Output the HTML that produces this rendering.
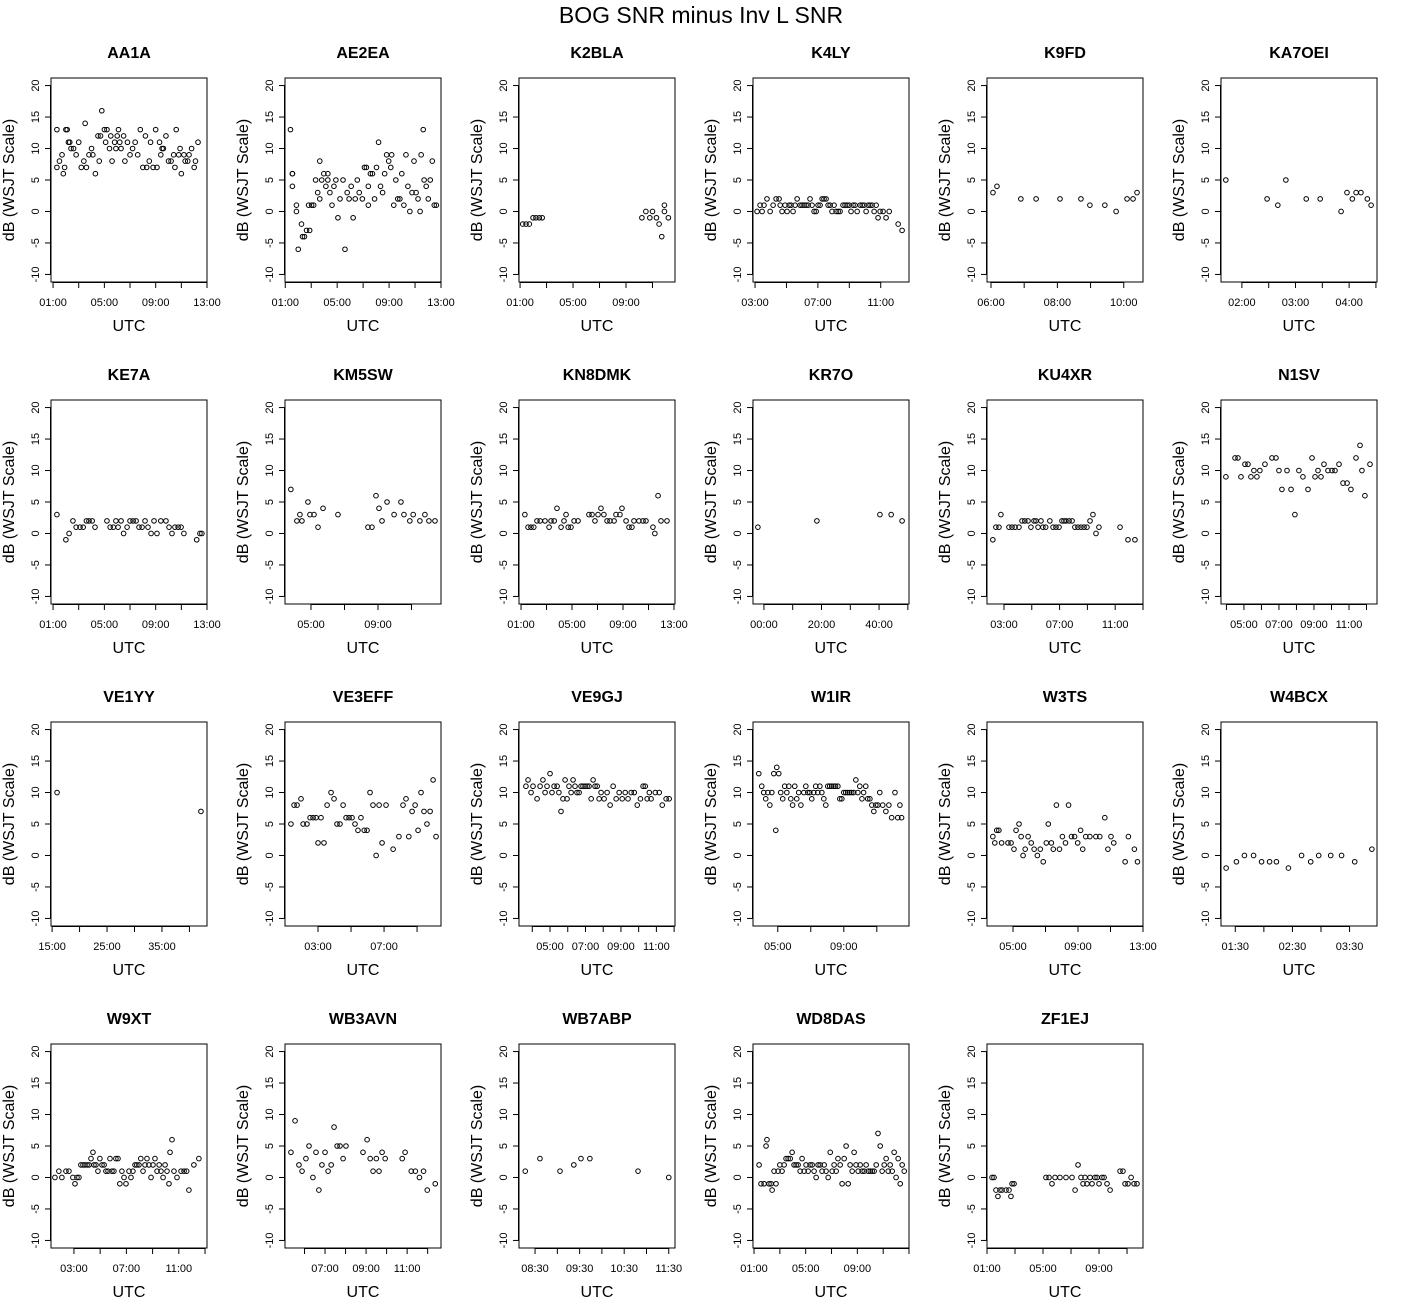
<!DOCTYPE html>
<html><head><meta charset="utf-8">
<style>
html,body{margin:0;padding:0;background:#fff;}
svg{display:block;font-family:"Liberation Sans",Arial,sans-serif;}
</style></head>
<body>
<svg id="chart" width="1403" height="1313" viewBox="0 0 1403 1313" xmlns="http://www.w3.org/2000/svg">
<text x="701" y="23" text-anchor="middle" font-size="23">BOG SNR minus Inv L SNR</text>
</svg>
<script>
// ---- data (hours, dB) ----
const tAA1A=[1.3,1.3,1.5,1.7,1.8,1.9,2.0,2.1,2.2,2.3,2.4,2.6,2.8,3.0,3.2,3.4,3.5,3.6,3.8,4.0,4.1,4.3,4.5,4.6,4.7,4.8,5.0,5.1,5.2,5.4,5.5,5.6,5.8,5.9,6.0,6.1,6.2,6.3,6.5,6.6,6.8,7.0,7.2,7.4,7.6,7.8,8.0,8.2,8.3,8.5,8.6,8.8,9.0,9.1,9.3,9.4,9.5,9.6,9.8,10.0,10.2,10.4,10.5,10.6,10.8,10.9,11.0,11.2,11.3,11.5,11.6,11.8,12.0,12.1,12.3];
const vAA1A=[13,7,8,9,6,7,13,13,11,11,10,10,9,11,7,8,14,7,9,10,9,6,12,8,12,16,13,11,13,10,12,8,11,10,12,13,11,10,12,8,11,9,10,11,9,13,7,12,7,8,11,7,13,7,11,9,10,10,12,8,8,9,7,13,9,10,6,9,8,8,9,10,7,8,11];
const tAE2EA=[1.4,1.55,1.55,1.55,1.86,1.86,2.0,2.25,2.33,2.48,2.64,2.8,2.88,3.03,3.19,3.34,3.5,3.66,3.66,3.81,3.97,4.13,4.28,4.28,4.44,4.6,4.75,4.9,5.06,5.22,5.45,5.6,5.77,5.92,6.08,6.23,6.39,6.55,6.7,6.94,7.1,7.25,7.4,7.4,7.56,7.72,7.88,8.03,8.19,8.34,8.5,8.66,8.81,8.97,9.13,9.2,9.36,9.52,9.67,9.83,9.98,10.14,10.3,10.45,10.6,10.77,10.92,11.08,11.23,11.39,11.47,11.63,11.7,11.86,12.02,12.17,12.33,12.48,12.64];
const vAE2EA=[13,6,6,4,0,1,-6,-2,-4,-4,-3,1,-3,1,1,5,3,8,2,5,6,4,5,6,3,1,4,5,-1,2,5,-6,3,2,4,-1,2,5,3,2,7,7,4,1,6,6,2,7,11,4,3,6,9,8,7,9,1,5,2,2,6,1,9,4,0,3,8,3,2,0,9,13,5,4,2,5,8,1,1];
const tK2BLA=[1.2,1.45,1.7,1.98,2.2,2.45,2.67,10.2,10.5,10.8,11.0,11.3,11.5,11.7,11.9,11.9,12.2];
const vK2BLA=[-2,-2,-2,-1,-1,-1,-1,-1,0,-1,0,-1,-2,-4,1,0,-1];
const tK4LY=[3.13,3.32,3.45,3.57,3.76,3.96,4.15,4.34,4.53,4.6,4.72,4.91,5.04,5.17,5.29,5.42,5.55,5.68,5.87,5.99,6.12,6.25,6.38,6.5,6.63,6.76,6.89,7.01,7.14,7.27,7.39,7.52,7.65,7.78,7.9,8.03,8.16,8.29,8.41,8.6,8.73,8.86,8.99,9.11,9.24,9.37,9.5,9.69,9.82,9.94,10.07,10.2,10.32,10.45,10.58,10.71,10.83,10.96,11.15,11.34,11.54,12.11,12.36];
const vK4LY=[0,1,0,1,2,0,1,2,2,1,0,1,0,1,1,0,1,2,1,1,1,1,1,2,1,0,0,1,1,2,2,2,1,1,0,1,0,0,0,1,1,1,1,0,1,1,0,1,1,1,0,1,1,1,0,1,-1,0,0,-1,0,-2,-3];
const tK9FD=[6.06,6.18,6.9,7.36,8.08,8.71,8.98,9.43,9.77,10.1,10.28,10.4];
const vK9FD=[3,4,2,2,2,2,1,1,0,2,2,3];
const tKA7OEI=[1.7,2.47,2.67,2.82,3.2,3.46,3.85,3.96,4.06,4.13,4.22,4.34,4.41];
const vKA7OEI=[5,2,1,5,2,2,0,3,2,3,3,2,1];
const tKE7A=[1.3,2.0,2.25,2.55,2.8,3.1,3.35,3.6,3.8,4.05,4.27,5.2,5.45,5.7,5.9,6.07,6.3,6.5,6.77,7.0,7.24,7.47,7.7,7.94,8.17,8.4,8.64,8.87,9.1,9.4,9.8,10.04,10.27,10.5,10.75,10.98,11.2,12.2,12.45,12.6];
const vKE7A=[3,-1,0,2,1,1,1,2,2,2,1,2,1,1,2,1,2,0,1,2,2,2,1,1,2,1,0,2,0,2,2,1,0,1,1,1,0,-1,0,0];
const tKM5SW=[3.8,4.16,4.34,4.46,4.82,4.94,5.18,5.42,5.72,6.61,8.4,8.64,8.88,9.06,9.24,9.54,9.96,10.37,10.55,10.9,11.1,11.5,11.8,12.04,12.4];
const vKM5SW=[7,2,3,2,5,3,3,1,4,3,1,1,6,4,2,5,3,5,3,2,3,2,3,2,2];
const tKN8DMK=[1.3,1.55,1.78,2.0,2.25,2.5,2.88,3.2,3.35,3.6,3.82,4.14,4.37,4.53,4.7,4.92,5.16,5.47,6.33,6.57,6.8,7.04,7.27,7.5,7.75,7.98,8.3,8.45,8.76,8.92,9.24,9.47,9.7,9.86,10.25,10.57,10.8,11.35,11.5,11.75,11.98,12.45];
const vKN8DMK=[3,1,1,1,2,2,2,1,2,2,4,1,2,3,1,1,2,2,3,3,2,3,4,3,2,2,2,3,3,4,2,1,1,2,2,2,2,1,0,6,2,2];
const tKR7O=[-2.1,18.4,40.3,44.2,48];
const vKR7O=[1,2,3,3,2];
const tKU4XR=[2.2,2.42,2.64,2.78,3.36,3.58,3.8,4.08,4.3,4.5,4.73,4.94,5.16,5.3,5.45,5.66,5.8,6.0,6.3,6.53,6.74,6.96,7.17,7.32,7.46,7.68,7.9,8.1,8.32,8.54,8.76,8.97,9.19,9.4,9.62,9.83,11.35,11.92,12.42];
const vKU4XR=[-1,1,1,3,1,1,1,1,2,2,2,1,2,2,1,2,1,1,2,1,1,1,2,2,2,2,2,1,1,1,1,1,2,3,0,1,1,-1,-1];
const tN1SV=[3.97,4.49,4.66,4.83,5.06,5.23,5.4,5.57,5.74,5.91,6.2,6.6,6.83,7.0,7.17,7.46,7.69,7.91,8.14,8.37,8.66,8.89,9.06,9.23,9.4,9.57,9.8,10.03,10.2,10.43,10.66,10.89,11.11,11.4,11.63,11.74,11.91,12.2];
const vN1SV=[9,12,12,9,11,11,9,10,9,10,11,12,12,10,7,10,7,3,10,9,7,12,9,10,9,11,10,10,10,11,8,8,7,12,14,10,6,11];
const tVE1YY=[15.9,42.1];
const vVE1YY=[10,7];
const tVE3EFF=[1.36,1.55,1.73,1.97,2.1,2.33,2.52,2.7,2.88,3.0,3.18,3.36,3.55,3.79,3.97,4.15,4.33,4.52,4.7,4.88,5.06,5.24,5.42,5.6,5.8,5.97,6.15,6.33,6.52,6.7,6.88,7.12,7.55,7.9,8.15,8.33,8.5,8.7,8.88,9.06,9.24,9.42,9.6,9.79,9.97,10.15];
const vVE3EFF=[5,8,8,9,5,5,6,6,6,2,6,2,8,10,9,5,5,8,6,6,6,5,4,6,4,4,10,8,0,8,2,8,1,3,8,9,3,7,8,4,10,7,5,7,12,3];
const tVE9GJ=[3.64,3.76,3.93,4.04,4.27,4.44,4.6,4.72,4.83,5.0,5.11,5.23,5.4,5.5,5.62,5.73,5.85,5.96,6.07,6.19,6.3,6.41,6.52,6.64,6.75,6.86,6.98,7.09,7.2,7.32,7.43,7.54,7.66,7.77,7.88,8.05,8.22,8.39,8.56,8.73,8.9,9.07,9.24,9.4,9.58,9.75,9.92,10.1,10.25,10.37,10.48,10.6,10.7,10.94,11.16,11.33,11.55,11.72];
const vVE9GJ=[11,12,10,11,9,11,12,10,11,13,10,11,11,10,7,9,12,9,11,10,12,11,10,10,11,11,11,11,11,9,12,11,11,9,10,9,10,8,11,9,10,9,10,9,10,10,8,9,11,11,9,10,9,10,10,8,9,9];
const tW1IR=[3.85,4.03,4.15,4.27,4.4,4.52,4.64,4.76,4.88,4.94,5.06,5.18,5.3,5.42,5.55,5.67,5.79,5.9,6.03,6.15,6.27,6.4,6.58,6.7,6.82,6.94,7.06,7.18,7.3,7.42,7.55,7.67,7.79,7.91,8.03,8.15,8.27,8.4,8.5,8.64,8.76,8.88,9.0,9.12,9.24,9.36,9.48,9.6,9.73,9.85,9.97,10.1,10.2,10.33,10.45,10.58,10.7,10.82,10.94,11.06,11.18,11.36,11.55,11.73,11.9,12.1,12.27,12.4,12.5];
const vW1IR=[13,11,10,9,10,8,10,13,4,14,13,10,9,11,10,11,9,8,11,9,10,8,10,11,10,10,9,10,11,10,11,10,9,8,11,11,11,11,11,11,9,9,10,10,10,10,10,10,12,10,11,9,10,11,9,9,8,7,8,8,10,8,7,8,6,10,6,8,6];
const tW3TS=[3.76,3.88,4.0,4.13,4.3,4.69,4.88,5.06,5.19,5.37,5.5,5.62,5.75,5.93,6.12,6.3,6.5,6.68,6.86,7.05,7.17,7.36,7.48,7.67,7.86,8.04,8.23,8.42,8.6,8.79,8.98,9.16,9.29,9.48,9.73,10.1,10.34,10.65,10.84,11.03,11.2,11.9,12.1,12.47,12.66];
const vW3TS=[3,2,4,4,2,2,2,1,4,5,3,0,1,3,2,1,0,1,-1,2,5,2,1,8,1,3,2,8,3,3,2,4,1,3,3,3,3,6,1,3,2,-1,3,1,-1];
const tW4BCX=[1.34,1.52,1.66,1.82,1.96,2.1,2.22,2.43,2.66,2.82,2.96,3.17,3.36,3.59,3.89];
const vW4BCX=[-2,-1,0,0,-1,-1,-1,-2,0,-1,0,0,0,-1,1];
const tW9XT=[1.55,1.85,2.08,2.39,2.62,2.92,3.08,3.23,3.38,3.53,3.69,3.84,4.0,4.15,4.3,4.45,4.53,4.68,4.83,4.98,5.14,5.3,5.44,5.6,5.75,5.9,6.05,6.2,6.36,6.5,6.66,6.82,6.97,7.2,7.35,7.5,7.66,7.8,7.96,8.1,8.27,8.42,8.57,8.72,8.88,9.03,9.18,9.34,9.5,9.64,9.8,9.95,10.1,10.25,10.33,10.48,10.63,10.86,11.17,11.4,11.6,11.77,12.15,12.53];
const vW9XT=[0,1,0,1,1,0,-1,0,0,2,2,2,2,2,3,4,2,2,1,3,2,2,1,1,3,1,1,3,3,-1,1,0,-1,1,0,1,2,2,2,3,1,2,3,2,0,2,3,1,2,1,0,2,1,-1,4,6,1,0,1,1,1,-2,2,3];
const tWB3AVN=[5.34,5.54,5.73,5.88,6.07,6.22,6.41,6.56,6.7,6.85,7.0,7.15,7.3,7.44,7.59,7.73,7.88,8.02,8.85,9.05,9.2,9.34,9.5,9.63,9.78,9.93,10.76,10.9,11.2,11.4,11.6,11.8,11.98,12.37];
const vWB3AVN=[4,9,2,1,3,5,0,4,-2,2,4,1,2,8,5,5,3,5,4,6,3,1,3,1,4,3,3,4,1,1,0,1,-2,-1];
const tWB7ABP=[8.28,8.61,9.06,9.37,9.53,9.73,10.81,11.5];
const vWB7ABP=[1,3,1,2,3,3,1,0];
const tWD8DAS=[1.39,1.54,1.78,1.93,2.0,2.16,2.32,2.4,2.55,2.7,2.86,3.0,3.17,3.33,3.48,3.64,3.8,3.95,4.1,4.26,4.41,4.57,4.72,4.88,5.03,5.19,5.34,5.5,5.65,5.81,5.96,6.12,6.27,6.43,6.58,6.74,6.9,7.05,7.2,7.36,7.5,7.67,7.82,7.98,8.13,8.29,8.44,8.6,8.75,8.9,9.06,9.22,9.37,9.53,9.68,9.84,10.0,10.15,10.3,10.46,10.6,10.77,10.92,11.08,11.23,11.39,11.54,11.7,11.85,12.0,12.16,12.32,12.47,12.63];
const vWD8DAS=[2,-1,-1,5,6,-1,-1,-2,1,-1,1,2,1,2,3,3,3,4,2,2,2,1,3,1,2,1,2,2,1,0,2,2,1,2,1,0,4,1,2,1,3,2,-1,3,5,-1,2,1,4,2,1,2,1,1,2,1,1,1,1,2,7,5,1,2,3,1,2,1,4,0,3,-1,2,1];
const tZF1EJ=[1.36,1.5,1.64,1.78,1.93,2.07,2.36,2.57,2.71,2.79,2.93,5.21,5.43,5.64,5.86,6.21,6.64,7.07,7.29,7.5,7.71,7.86,8.0,8.14,8.36,8.5,8.71,8.86,9.0,9.21,9.36,9.57,9.79,10.5,10.71,10.86,11.07,11.29,11.5,11.71];
const vZF1EJ=[0,0,-2,-3,-2,-2,-2,-2,-3,-1,-1,0,0,-1,0,0,0,0,-2,2,0,-1,0,-1,0,-1,0,0,-1,0,0,-1,-2,1,1,-1,-1,0,-1,-1];
const yTicks=[-10,-5,0,5,10,15,20];

// panel configs: name, times, values, x-domain, tick values, labelled ticks, label mode
const panels=[
 ["AA1A",tAA1A,vAA1A,[0.84,13.0],[1,3,5,7,9,11,13],[1,5,9,13],"h"],
 ["AE2EA",tAE2EA,vAE2EA,[0.98,13.0],[1,3,5,7,9,11,13],[1,5,9,13],"h"],
 ["K2BLA",tK2BLA,vK2BLA,[0.92,12.7],[1,3,5,7,9,11],[1,5,9],"h"],
 ["K4LY",tK4LY,vK4LY,[2.87,12.8],[3,5,7,9,11],[3,7,11],"h"],
 ["K9FD",tK9FD,vK9FD,[5.88,10.58],[6,7,8,9,10],[6,8,10],"h"],
 ["KA7OEI",tKA7OEI,vKA7OEI,[1.61,4.52],[2,2.5,3,3.5,4,4.5],[2,3,4],"h"],
 ["KE7A",tKE7A,vKE7A,[0.84,13.0],[1,3,5,7,9,11,13],[1,5,9,13],"h"],
 ["KM5SW",tKM5SW,vKM5SW,[3.45,12.76],[5,7,9,11],[5,9],"h"],
 ["KN8DMK",tKN8DMK,vKN8DMK,[0.84,13.08],[1,3,5,7,9,11,13],[1,5,9,13],"h"],
 ["KR7O",tKR7O,vKR7O,[-3.8,50.4],[0,10,20,30,40,50],[0,20,40],"m"],
 ["KU4XR",tKU4XR,vKU4XR,[1.78,13.0],[3,5,7,9,11,13],[3,7,11],"h"],
 ["N1SV",tN1SV,vN1SV,[3.69,12.6],[4,5,6,7,8,9,10,11,12],[5,7,9,11],"h"],
 ["VE1YY",tVE1YY,vVE1YY,[14.8,43.2],[15,20,25,30,35,40],[15,25,35],"m"],
 ["VE3EFF",tVE3EFF,vVE3EFF,[1.0,10.45],[3,5,7,9],[3,7],"h"],
 ["VE9GJ",tVE9GJ,vVE9GJ,[3.25,12.05],[4,5,6,7,8,9,10,11,12],[5,7,9,11],"h"],
 ["W1IR",tW1IR,vW1IR,[3.5,12.95],[5,7,9,11],[5,9],"h"],
 ["W3TS",tW3TS,vW3TS,[3.4,13.0],[5,7,9,11,13],[5,9,13],"h"],
 ["W4BCX",tW4BCX,vW4BCX,[1.25,3.98],[1.5,2,2.5,3,3.5],[1.5,2.5,3.5],"h"],
 ["W9XT",tW9XT,vW9XT,[1.25,13.15],[3,5,7,9,11,13],[3,7,11],"h"],
 ["WB3AVN",tWB3AVN,vWB3AVN,[5.05,12.65],[6,7,8,9,10,11,12],[7,9,11],"h"],
 ["WB7ABP",tWB7ABP,vWB7ABP,[8.14,11.64],[8.5,9,9.5,10,10.5,11,11.5],[8.5,9.5,10.5,11.5],"h"],
 ["WD8DAS",tWD8DAS,vWD8DAS,[0.92,13.0],[1,3,5,7,9,11,13],[1,5,9],"h"],
 ["ZF1EJ",tZF1EJ,vZF1EJ,[1.0,12.14],[1,3,5,7,9,11],[1,5,9],"h"]
];

const NS="http://www.w3.org/2000/svg";
const svg=document.getElementById('chart');
function mk(tag,attrs,parent){const e=document.createElementNS(NS,tag);for(const k in attrs)e.setAttribute(k,attrs[k]);(parent||svg).appendChild(e);return e;}
function fmt(v,mode){
  const h=Math.floor(v+1e-9), m=Math.round((v-h)*60);
  const p=n=>String(n).padStart(2,'0');
  return mode==="m"?p(Math.round(v))+":00":p(h)+":"+p(m);
}
const Y0=-11.2,Y1=21.2,W=156,H=204;
panels.forEach((p,i)=>{
  const [name,ts,vs,dom,ticks,labs,mode]=p;
  const col=i%6,row=Math.floor(i/6);
  const L=51+234*col,T=78+322*row,B=T+H;
  const sx=t=>L+(t-dom[0])/(dom[1]-dom[0])*W;
  const sy=v=>B-(v-Y0)/(Y1-Y0)*H;
  const g=mk('g',{});
  
  
  const tt=mk('text',{x:L+W/2,y:T-20,'text-anchor':'middle','font-size':16,'font-weight':'bold'},g);
  tt.textContent=name;
  
  
  const box=mk('rect',{x:L,y:T,width:W,height:H,fill:'none',stroke:'#000','stroke-width':1},g);
  
  
  // x axis
  const xa=mk('g',{},g);
  
  
  mk('line',{x1:sx(ticks[0]),x2:sx(ticks[ticks.length-1]),y1:B+0.5,y2:B+0.5,stroke:'#000'},xa);
  ticks.forEach(t=>{
    mk('line',{x1:sx(t),x2:sx(t),y1:B,y2:B+6,stroke:'#000'},xa);
  });
  labs.forEach(t=>{
    const lt=mk('text',{x:sx(t),y:B+24,'text-anchor':'middle','font-size':11},xa);
    lt.textContent=fmt(t,mode);
    
    
  });
  const xl=mk('text',{x:L+W/2,y:B+49,'text-anchor':'middle','font-size':16},g);
  xl.textContent='UTC';
  
  
  // y axis
  const ya=mk('g',{},g);
  
  
  mk('line',{x1:L-0.5,x2:L-0.5,y1:sy(yTicks[0]),y2:sy(yTicks[yTicks.length-1]),stroke:'#000'},ya);
  yTicks.forEach(v=>{
    mk('line',{x1:L-6,x2:L,y1:sy(v),y2:sy(v),stroke:'#000'},ya);
    const yt=mk('text',{x:0,y:0,'text-anchor':'middle','font-size':11,transform:`translate(${L-12},${sy(v)}) rotate(-90)`},ya);
    yt.textContent=String(v);
    
    
  });
  const yl=mk('text',{x:0,y:0,'text-anchor':'middle','font-size':16,transform:`translate(${L-37},${T+H/2}) rotate(-90)`},g);
  yl.textContent='dB (WSJT Scale)';
  
  
  // points
  const pts=mk('g',{},g);
  
  
  ts.forEach((t,k)=>{
    const c=mk('circle',{cx:sx(t),cy:sy(vs[k]),r:2.3,fill:'none',stroke:'#000','stroke-width':1},pts);
    
    
  });
});
</script>
</body></html>
